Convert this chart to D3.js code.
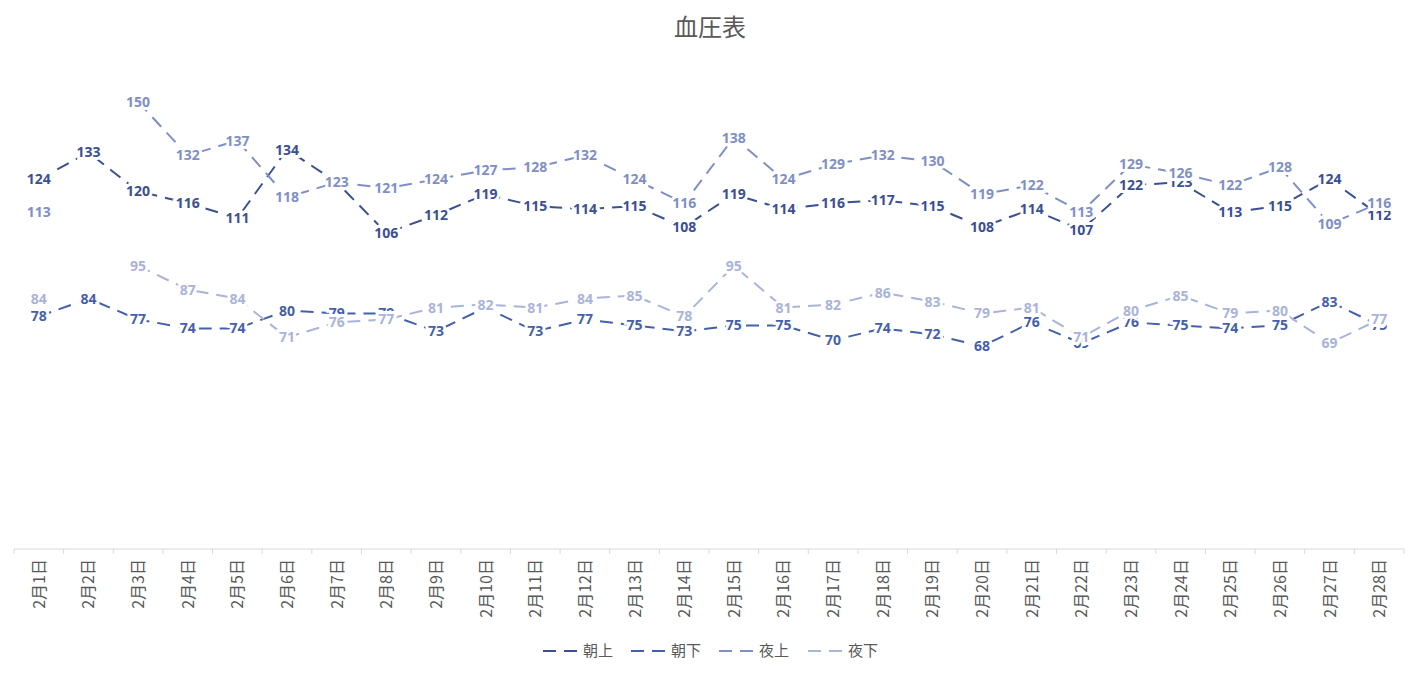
<!DOCTYPE html>
<html>
<head>
<meta charset="UTF-8">
<style>
  body { margin: 0; background: #fff; font-family: "Noto Sans CJK JP", "Noto Sans", sans-serif; }
</style>
</head>
<body>
<svg id="chart" width="1421" height="675"></svg>
<script src="https://d3js.org/d3.v7.min.js"></script>
<script>
const days = d3.range(1, 29).map(d => "2月" + d + "日");
const seriesNames = ["朝上", "朝下", "夜上", "夜下"];
const asaUe = [124,133,120,116,111,134,123,106,112,119,115,114,115,108,119,114,116,117,115,108,114,107,122,123,113,115,124,112];
const asaShita = [78,84,77,74,74,80,79,79,73,81,73,77,75,73,75,75,70,74,72,68,76,69,76,75,74,75,83,75];
const yoruUe = [113,null,150,132,137,118,123,121,124,127,128,132,124,116,138,124,129,132,130,119,122,113,129,126,122,128,109,116];
const yoruShita = [84,null,95,87,84,71,76,77,81,82,81,84,85,78,95,81,82,86,83,79,81,71,80,85,79,80,69,77];
const colors = ["#3b4f93", "#4560ab", "#7f8fc6", "#aab3d8"];
const allSeries = [asaUe, asaShita, yoruUe, yoruShita];

const svg = d3.select("#chart");
const x = d3.scaleBand().domain(days).range([14, 1404]);
const y = d3.scaleLinear().domain([0, 160]).range([549, 72]);

svg.append("text").attr("x", 710).attr("y", 36).attr("text-anchor", "middle")
  .attr("font-size", 24).attr("fill", "#595959").text("血圧表");

// axis
const axis = svg.append("g").attr("transform", "translate(0,549)");
axis.append("line").attr("x1", 14).attr("x2", 1404).attr("stroke", "#d9d9d9");
axis.selectAll("line.tick").data(d3.range(29)).enter().append("line")
  .attr("x1", i => 14 + i * x.bandwidth()).attr("x2", i => 14 + i * x.bandwidth())
  .attr("y1", 0).attr("y2", 5).attr("stroke", "#d9d9d9");
axis.selectAll("text").data(days).enter().append("text")
  .attr("transform", d => `translate(${x(d) + x.bandwidth() / 2 + 6},10) rotate(-90)`)
  .attr("text-anchor", "end").attr("font-size", 16).attr("fill", "#595959").text(d => d);

const line = d3.line().defined(d => d != null)
  .x((d, i) => x(days[i]) + x.bandwidth() / 2).y(d => y(d));

// draw lines then labels
allSeries.forEach((s, k) => {
  svg.append("path").datum(s).attr("d", line).attr("fill", "none")
    .attr("stroke", colors[k]).attr("stroke-width", 2).attr("stroke-dasharray", "13,8");
});
allSeries.forEach((s, k) => {
  svg.append("g").selectAll("text").data(s.map((v, i) => [v, i]).filter(d => d[0] != null))
    .enter().append("text")
    .attr("x", d => x(days[d[1]]) + x.bandwidth() / 2)
    .attr("y", d => y(d[0]) + 5)
    .attr("text-anchor", "middle").attr("font-size", 14).attr("font-weight", "bold")
    .attr("font-family", "Open Sans, sans-serif")
    .attr("fill", colors[k]).attr("stroke", "#fff").attr("stroke-width", 6)
    .attr("paint-order", "stroke").text(d => d[0]);
});

// legend
const lg = svg.append("g");
const lx = [543, 631, 719, 808];
seriesNames.forEach((n, k) => {
  lg.append("line").attr("x1", lx[k]).attr("x2", lx[k] + 36).attr("y1", 651).attr("y2", 651)
    .attr("stroke", colors[k]).attr("stroke-width", 2).attr("stroke-dasharray", "13,8");
  lg.append("text").attr("x", lx[k] + 40).attr("y", 656).attr("font-size", 15)
    .attr("fill", "#595959").text(n);
});
</script>
</body>
</html>
